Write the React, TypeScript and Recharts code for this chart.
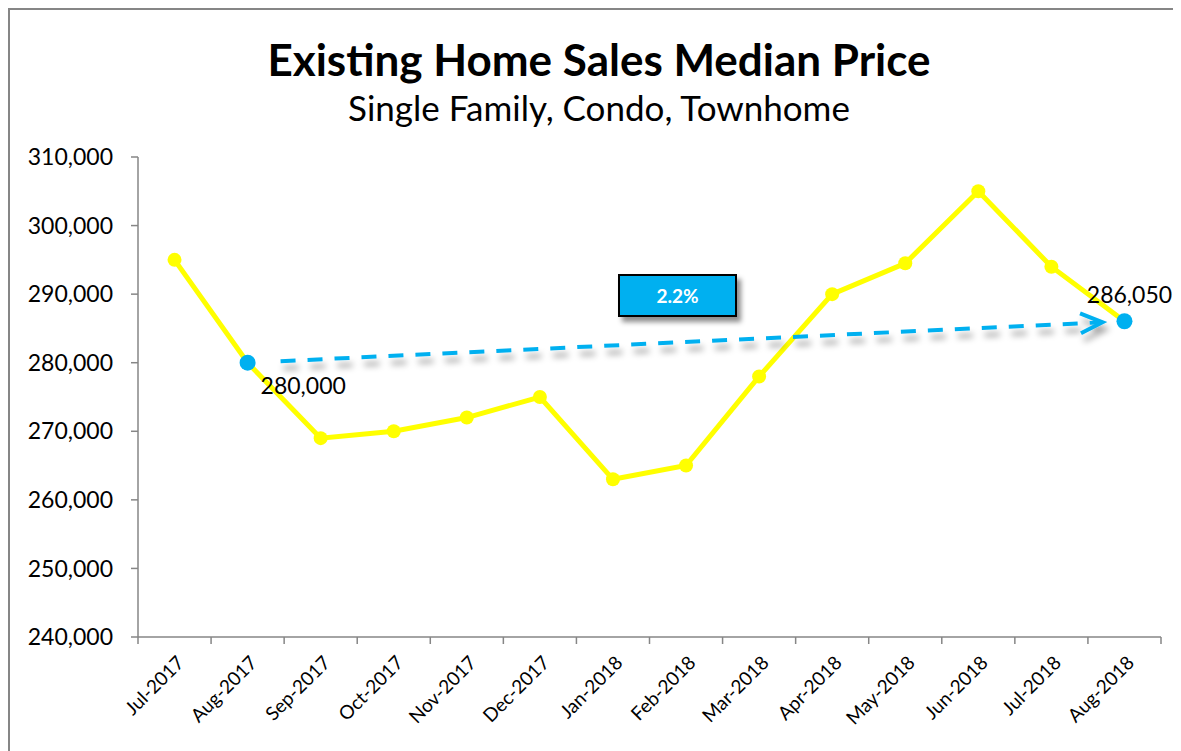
import React from "react";
import {
  LineChart,
  Line,
  XAxis,
  YAxis,
  ReferenceLine,
} from "recharts";

const months = [
  "Jul-2017", "Aug-2017", "Sep-2017", "Oct-2017", "Nov-2017", "Dec-2017", "Jan-2018",
  "Feb-2018", "Mar-2018", "Apr-2018", "May-2018", "Jun-2018", "Jul-2018", "Aug-2018",
];
const medianPrice = [
  295000, 280000, 269000, 270000, 272000, 275000, 263000,
  265000, 278000, 290000, 294500, 305000, 294000, 286050,
];
const markedMonths = ["Aug-2017", "Aug-2018"];
const yTicks = [240000, 250000, 260000, 270000, 280000, 290000, 300000, 310000];
const changeLabel = "2.2%";

const chartTitle = "Existing Home Sales Median Price";
const chartSubtitle = "Single Family, Condo, Townhome";

const FONT = "Lato, 'Open Sans', sans-serif";
const YELLOW = "#FFFF00";
const BLUE = "#00B0F0";
const AXIS = "#868686";

const CHART_W = 1171;
const CHART_H = 741;
const MARGIN = { top: 147, right: 20, left: 0, bottom: 14 };
const Y_W = 128;
const PLOT_W = CHART_W - MARGIN.right - MARGIN.left - Y_W;
const HALF_BAND = PLOT_W / months.length / 2;

const rows = months.map((m, i) => ({
  month: m,
  price: medianPrice[i],
  marked: markedMonths.includes(m) ? medianPrice[i] : null,
}));

const fmt = (v: number) => v.toLocaleString("en-US");

function MonthTick(props: any) {
  const { x, y, payload, index } = props;
  const tx = x + 6;
  const ty = y + 22;
  return (
    <g>
      <line x1={x - HALF_BAND} y1={y} x2={x - HALF_BAND} y2={y + 7} stroke={AXIS} strokeWidth={1.5} />
      {index === months.length - 1 && (
        <line x1={x + HALF_BAND} y1={y} x2={x + HALF_BAND} y2={y + 7} stroke={AXIS} strokeWidth={1.5} />
      )}
      <text
        x={tx}
        y={ty}
        dy="0.36em"
        textAnchor="end"
        transform={`rotate(-45, ${tx}, ${ty})`}
        fontFamily={FONT}
        fontSize={19}
        fill="#000"
      >
        {payload.value}
      </text>
    </g>
  );
}

function MarkedLabel(props: any) {
  const { x, y, value, index } = props;
  if (value == null) return null;
  const first = index === months.indexOf(markedMonths[0]);
  return (
    <text
      x={first ? x + 13 : x + 5}
      y={first ? y + 31 : y - 18}
      textAnchor={first ? "start" : "middle"}
      fontFamily={FONT}
      fontSize={23}
      fill="#000"
    >
      {fmt(value)}
    </text>
  );
}

function TrendArrow(props: any) {
  const { x1, y1, x2, y2 } = props;
  if (x1 == null || x2 == null) return null;
  const dx = x2 - x1;
  const dy = y2 - y1;
  const len = Math.sqrt(dx * dx + dy * dy);
  const ux = dx / len;
  const uy = dy / len;
  const sx = x1 + ux * 33;
  const sy = y1 + uy * 33;
  const ex = x2 - ux * 22;
  const ey = y2 - uy * 22;
  const back = 22;
  const spread = 10;
  const bx = ex - ux * back;
  const by = ey - uy * back;
  return (
    <g>
      <defs>
        <filter id="arrowShadow" x="-10%" y="-200%" width="120%" height="500%">
          <feDropShadow dx="3" dy="7" stdDeviation="3" floodColor="#000" floodOpacity="0.35" />
        </filter>
      </defs>
      <g filter="url(#arrowShadow)" stroke={BLUE} strokeWidth={4} fill="none">
        <line x1={sx} y1={sy} x2={ex - ux * 4} y2={ey - uy * 4} strokeDasharray="15 12" />
        <polyline
          points={`${bx - uy * spread},${by + ux * spread} ${ex},${ey} ${bx + uy * spread},${by - ux * spread}`}
          strokeLinejoin="miter"
        />
      </g>
    </g>
  );
}

export default function App() {
  return (
    <div
      style={{
        position: "relative",
        width: 1173,
        height: 743,
        borderLeft: `2px solid ${AXIS}`,
        borderTop: `2px solid ${AXIS}`,
        background: "#fff",
        fontFamily: FONT,
      }}
    >
      <div
        style={{
          position: "absolute",
          left: 0,
          width: 1178,
          top: 27,
          textAlign: "center",
          fontSize: 44,
          lineHeight: "44px",
          fontWeight: 700,
          color: "#000",
        }}
      >
        {chartTitle}
      </div>
      <div
        style={{
          position: "absolute",
          left: 0,
          width: 1178,
          top: 80,
          textAlign: "center",
          fontSize: 35,
          lineHeight: "35px",
          color: "#000",
        }}
      >
        {chartSubtitle}
      </div>
      <LineChart width={CHART_W} height={CHART_H} data={rows} margin={MARGIN}>
        <XAxis
          dataKey="month"
          height={100}
          padding={{ left: HALF_BAND, right: HALF_BAND }}
          axisLine={{ stroke: AXIS, strokeWidth: 1.5 }}
          tickLine={false}
          tickSize={0}
          tickMargin={0}
          interval={0}
          tick={<MonthTick />}
        />
        <YAxis
          width={Y_W}
          domain={[240000, 310000]}
          ticks={yTicks}
          tickFormatter={fmt}
          axisLine={{ stroke: AXIS, strokeWidth: 1.5 }}
          tickLine={{ stroke: AXIS, strokeWidth: 1.5 }}
          tickSize={7}
          tickMargin={18}
          tick={{ fill: "#000", fontSize: 23, fontFamily: FONT }}
        />
        <Line
          type="linear"
          dataKey="price"
          stroke={YELLOW}
          strokeWidth={5}
          dot={{ r: 7, fill: YELLOW, stroke: "none" }}
          activeDot={false}
          isAnimationActive={false}
        />
        <ReferenceLine
          segment={[
            { x: markedMonths[0], y: medianPrice[months.indexOf(markedMonths[0])] },
            { x: markedMonths[1], y: medianPrice[months.indexOf(markedMonths[1])] },
          ]}
          ifOverflow="visible"
          shape={(p: any) => <TrendArrow {...p} />}
        />
        <Line
          type="linear"
          dataKey="marked"
          stroke="none"
          dot={{ r: 8, fill: BLUE, stroke: "none" }}
          activeDot={false}
          label={(p: any) => <MarkedLabel {...p} />}
          isAnimationActive={false}
        />
      </LineChart>
      <div
        style={{
          position: "absolute",
          left: 608,
          top: 264,
          width: 115,
          height: 39,
          background: BLUE,
          border: "2px solid #000",
          boxShadow: "4px 5px 5px rgba(0,0,0,0.45)",
          color: "#fff",
          fontWeight: 700,
          fontSize: 19,
          lineHeight: "39px",
          textAlign: "center",
        }}
      >
        {changeLabel}
      </div>
    </div>
  );
}
